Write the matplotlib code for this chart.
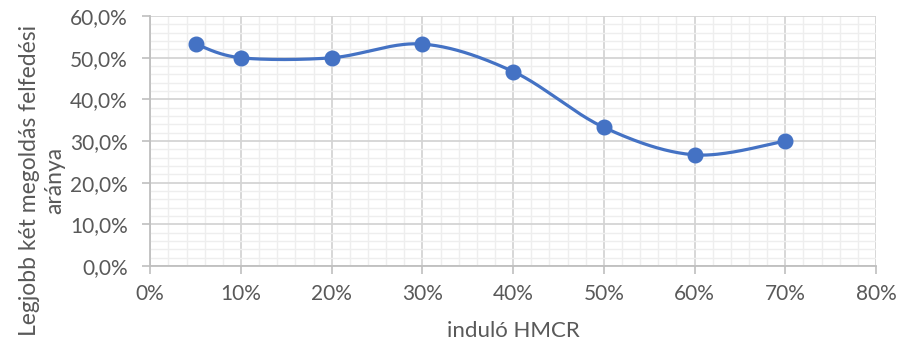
import numpy as np
import matplotlib
matplotlib.use("Agg")
import matplotlib.pyplot as plt
from matplotlib.ticker import MultipleLocator, FuncFormatter

plt.rcParams['font.family'] = ['Lato', 'DejaVu Sans']

# starting HMCR and share of runs that found the best two solutions (%)
hmcr = [5, 10, 20, 30, 40, 50, 60, 70]
ratio = [53.3, 50.0, 50.0, 53.3, 46.7, 33.3, 26.7, 30.0]

x_label = "induló HMCR"
y_label = "Legjobb két megoldás felfedési\naránya"

text_color = "#595959"
line_color = "#4472C4"


def smooth(xs, ys, steps=40):
    # Catmull-Rom style bezier through the points, like a spreadsheet "smoothed line"
    xs = np.asarray(xs, float)
    ys = np.asarray(ys, float)
    px = np.concatenate([[xs[0]], xs, [xs[-1]]])
    py = np.concatenate([[ys[0]], ys, [ys[-1]]])
    out_x, out_y = [], []
    t = np.linspace(0, 1, steps)
    for i in range(1, len(px) - 2):
        p0 = np.array([px[i], py[i]])
        p3 = np.array([px[i + 1], py[i + 1]])
        c1 = p0 + (np.array([px[i + 1], py[i + 1]]) - np.array([px[i - 1], py[i - 1]])) / 6
        c2 = p3 - (np.array([px[i + 2], py[i + 2]]) - np.array([px[i], py[i]])) / 6
        b = ((1 - t) ** 3)[:, None] * p0 + (3 * (1 - t) ** 2 * t)[:, None] * c1 \
            + (3 * (1 - t) * t ** 2)[:, None] * c2 + (t ** 3)[:, None] * p3
        out_x.extend(b[:, 0])
        out_y.extend(b[:, 1])
    return out_x, out_y


fig = plt.figure(figsize=(9.05, 3.51), dpi=100, facecolor="white")
ax = fig.add_axes([0.166, 0.242, 0.802, 0.712])

sx, sy = smooth(hmcr, ratio)
ax.plot(sx, sy, color=line_color, linewidth=2.3, zorder=3, solid_capstyle="round")
ax.plot(hmcr, ratio, linestyle="none", marker="o", markersize=10.5,
        color=line_color, zorder=4)

ax.set_xlim(0, 80)
ax.set_ylim(0, 60)
ax.xaxis.set_major_locator(MultipleLocator(10))
ax.xaxis.set_minor_locator(MultipleLocator(2))
ax.yaxis.set_major_locator(MultipleLocator(10))
ax.yaxis.set_minor_locator(MultipleLocator(2))
ax.xaxis.set_major_formatter(FuncFormatter(lambda v, p: f"{v:.0f}%"))
ax.yaxis.set_major_formatter(FuncFormatter(lambda v, p: f"{v:.1f}%".replace(".", ",")))

ax.grid(which="major", color="#d4d4d4", linewidth=1.3, zorder=1)
ax.grid(which="minor", color="#eeeeee", linewidth=1.0, zorder=0)
ax.set_axisbelow(True)

for side in ("top", "right"):
    ax.spines[side].set_visible(False)
for side in ("left", "bottom"):
    ax.spines[side].set_color("#bfbfbf")
    ax.spines[side].set_linewidth(1.3)

ax.tick_params(which="major", direction="out", length=6, width=1.2,
               color="#bfbfbf", labelcolor=text_color, labelsize=15)
ax.tick_params(axis="y", which="major", pad=10)
ax.tick_params(axis="x", which="major", pad=7)
ax.tick_params(which="minor", length=0)

ax.set_xlabel(x_label, fontsize=16, color=text_color, labelpad=12)
# y title sits lower than the plot area's middle, so place it on the figure
fig.text(0.047, 0.485, y_label, rotation=90, fontsize=16.5, color=text_color,
         ha="center", va="center", multialignment="center", linespacing=1.25)

fig.savefig("out.png", dpi=100, facecolor="white")
